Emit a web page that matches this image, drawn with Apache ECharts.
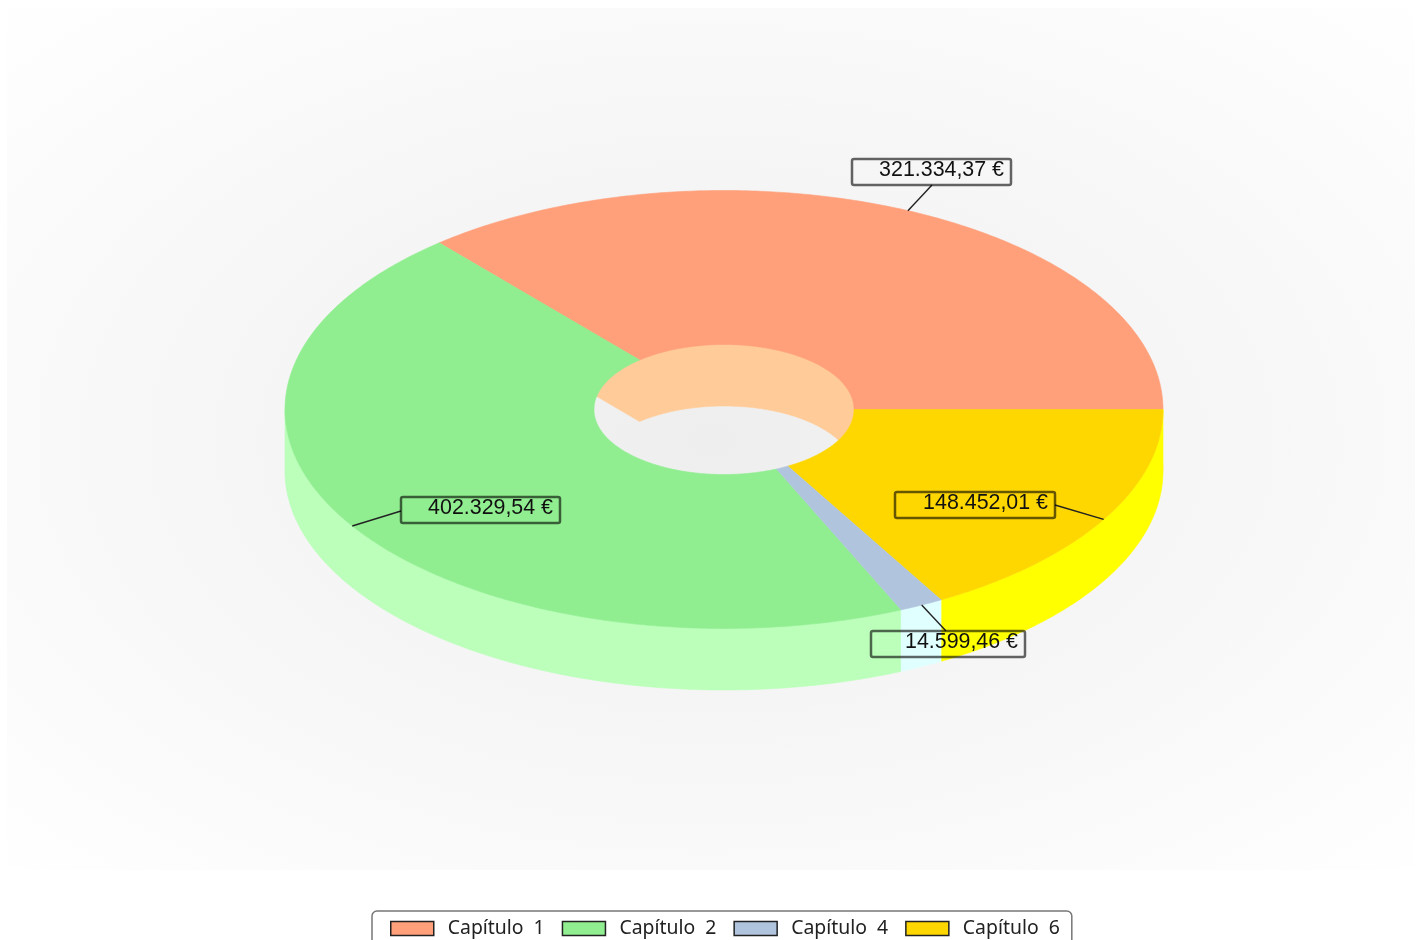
<!DOCTYPE html>
<html>
<head>
<meta charset="utf-8">
<style>html,body{margin:0;padding:0;background:#fff}#chart{width:1421px;height:940px}</style>
<script src="https://cdn.jsdelivr.net/npm/echarts@6/dist/echarts.min.js"></script>
</head>
<body>
<div id="chart"></div>
<script>
var capitulos = ['Capítulo  1', 'Capítulo  2', 'Capítulo  4', 'Capítulo  6'];
var valores = [321334.37, 402329.54, 14599.46, 148452.01];
var etiquetas = ['321.334,37 €', '402.329,54 €', '14.599,46 €', '148.452,01 €'];
var colores = ['#FFA07A', '#90EE90', '#B0C4DE', '#FFD700'];
var coloresLado = ['#FFCC99', '#BBFFBB', '#E0FFFF', '#FFFF00'];

// geometria del donut (elipse)
var cx = 724, cy = 409.5, rx = 439, ry = 219, hx = 130, hy = 65, fondo = 61.5;
// caja de cada etiqueta: x, y, ancho, alto, y de donde sale la linea
var cajas = [
  {x: 852, y: 159, w: 159, h: 26, lx: 932, ly: 185},
  {x: 401, y: 497, w: 159, h: 26, lx: 401, ly: 511},
  {x: 871, y: 631, w: 154, h: 26, lx: 946, ly: 631},
  {x: 895, y: 492, w: 160, h: 26, lx: 1055, ly: 505}
];

var total = valores.reduce(function (a, b) { return a + b; }, 0);
function anguloIni(i) {
  var s = 0;
  for (var k = 0; k < i; k++) s += valores[k];
  return s / total * Math.PI * 2;
}
function punto(a, rX, rY, dy) {
  return [cx + rX * Math.cos(a), cy - rY * Math.sin(a) + dy];
}
function arco(a0, a1, rX, rY, dy) {
  var pts = [], n = Math.max(2, Math.ceil(Math.abs(a1 - a0) / 0.01));
  for (var j = 0; j <= n; j++) pts.push(punto(a0 + (a1 - a0) * j / n, rX, rY, dy));
  return pts;
}
function poligono(pts, color) {
  return {
    type: 'polygon',
    shape: {points: pts},
    style: {fill: color, stroke: color, lineWidth: 0.6}
  };
}

// lados del donut, van debajo de las caras
function renderLado(params) {
  var i = params.dataIndex;
  var a0 = anguloIni(i), a1 = anguloIni(i + 1);
  var hijos = [];
  // la pared exterior solo se ve en la mitad de delante
  var f0 = Math.max(a0, Math.PI);
  if (a1 > f0) {
    hijos.push(poligono(arco(f0, a1, rx, ry, 0).concat(arco(a1, f0, rx, ry, fondo)), coloresLado[i]));
  }
  // por el agujero solo se ve el capitulo 1
  if (i === 0) {
    hijos.push(poligono(arco(a0, a1, hx, hy, fondo).concat(arco(a1, a0, rx, ry, fondo)), coloresLado[i]));
  }
  return {type: 'group', children: hijos};
}

function renderCara(i) {
  return function () {
    var a0 = anguloIni(i), a1 = anguloIni(i + 1);
    return poligono(arco(a0, a1, rx, ry, 0).concat(arco(a1, a0, hx, hy, 0)), colores[i]);
  };
}

function renderEtiqueta(params) {
  var i = params.dataIndex, c = cajas[i];
  var medio = (anguloIni(i) + anguloIni(i + 1)) / 2;
  var p = punto(medio, rx, ry, 0);
  return {
    type: 'group',
    children: [
      {
        type: 'line',
        shape: {x1: c.lx, y1: c.ly, x2: p[0], y2: p[1]},
        style: {stroke: '#222', lineWidth: 1.4}
      },
      {
        type: 'rect',
        shape: {x: c.x, y: c.y, width: c.w, height: c.h, r: 2},
        style: {fill: 'none', stroke: 'rgba(0,0,0,0.6)', lineWidth: 2.5}
      },
      {
        type: 'text',
        x: c.x + c.w - 7,
        y: c.y + 11,
        style: {
          text: etiquetas[i],
          fill: '#111',
          font: '21.4px "Liberation Sans", Arial, sans-serif',
          align: 'right',
          verticalAlign: 'middle'
        }
      }
    ]
  };
}

var myChart = echarts.init(document.getElementById('chart'));

var series = [{
  name: 'lados',
  type: 'custom',
  coordinateSystem: 'none',
  silent: true,
  renderItem: renderLado,
  data: valores
}];
capitulos.forEach(function (nombre, i) {
  series.push({
    name: nombre,
    type: 'custom',
    coordinateSystem: 'none',
    silent: true,
    itemStyle: {color: colores[i]},
    renderItem: renderCara(i),
    data: [valores[i]]
  });
});
series.push({
  name: 'etiquetas',
  type: 'custom',
  coordinateSystem: 'none',
  silent: true,
  renderItem: renderEtiqueta,
  data: valores
});

var option = {
  animation: false,
  backgroundColor: '#fff',
  graphic: [{
    type: 'rect',
    x: 7,
    y: 8,
    scaleY: 862 / 1408,
    silent: true,
    shape: {x: 0, y: 0, width: 1408, height: 1408},
    style: {
      fill: {
        type: 'radial', x: 0.5, y: 0.5, r: 0.72,
        colorStops: [{offset: 0, color: '#eeeeee'}, {offset: 1, color: '#ffffff'}]
      }
    }
  }],
  legend: {
    data: capitulos,
    left: 372,
    top: 911,
    orient: 'horizontal',
    selectedMode: false,
    icon: 'rect',
    itemWidth: 43,
    itemHeight: 14,
    itemGap: 17,
    padding: [8, 12, 30, 18],
    backgroundColor: '#fff',
    borderColor: '#777',
    borderWidth: 1.5,
    borderRadius: 5,
    itemStyle: {borderColor: '#222', borderWidth: 1.5},
    textStyle: {color: '#222', fontFamily: 'Noto Sans', fontSize: 19.4, padding: [0, 0, 0, 9]}
  },
  series: series
};
myChart.setOption(option);
</script>
</body>
</html>
